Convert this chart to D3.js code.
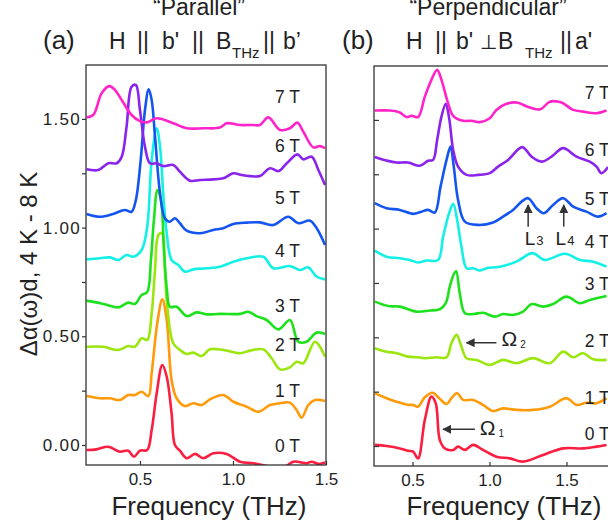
<!DOCTYPE html>
<html>
<head>
<meta charset="utf-8">
<script src="https://cdn.jsdelivr.net/npm/d3@7"></script>
<style>
  body { margin: 0; background: #fff; }
  text { font-family: "Liberation Sans", Arial, sans-serif; fill: #222; }
</style>
</head>
<body>
<svg id="chart" width="608" height="531"></svg>
<script>
// field labels and line colours, one per curve (0 T .. 7 T)
var fields = ["0 T", "1 T", "2 T", "3 T", "4 T", "5 T", "6 T", "7 T"];
var colors = ["#fa1e41", "#ff9a0a", "#9be60f", "#1ee11e", "#14f0e6", "#1455f0", "#8a23eb", "#ff23c8"];

// "Parallel" panel, [frequency THz, signal]
var par0 = [[0.213,-0.023],[0.267,-0.02],[0.33,-0.008],[0.392,-0.031],[0.437,-0.026],[0.468,-0.054],[0.5,-0.026],[0.539,-0.023],[0.563,0.069],[0.59,0.238],[0.62,0.368],[0.644,0.314],[0.67,0.146],[0.688,0.0],[0.715,-0.026],[0.751,-0.061],[0.796,-0.041],[0.84,-0.061],[0.894,-0.038],[0.966,-0.041],[1.038,-0.077],[1.109,-0.084],[1.181,-0.097],[1.253,-0.115],[1.324,-0.077],[1.396,-0.084],[1.423,-0.077],[1.459,-0.087],[1.495,-0.081]];
var par1 = [[0.213,0.225],[0.285,0.215],[0.339,0.215],[0.392,0.207],[0.437,0.23],[0.473,0.23],[0.509,0.245],[0.545,0.225],[0.563,0.33],[0.593,0.56],[0.62,0.67],[0.644,0.575],[0.67,0.299],[0.697,0.215],[0.742,0.179],[0.787,0.192],[0.832,0.184],[0.876,0.21],[0.948,0.23],[1.002,0.199],[1.074,0.176],[1.136,0.153],[1.199,0.184],[1.253,0.192],[1.306,0.195],[1.342,0.161],[1.369,0.126],[1.405,0.184],[1.441,0.207],[1.495,0.202]];
var par2 = [[0.213,0.452],[0.303,0.452],[0.383,0.437],[0.437,0.455],[0.473,0.452],[0.509,0.491],[0.539,0.483],[0.563,0.606],[0.581,0.805],[0.599,0.966],[0.618,0.975],[0.634,0.805],[0.647,0.636],[0.679,0.468],[0.715,0.437],[0.751,0.419],[0.787,0.425],[0.832,0.409],[0.876,0.44],[0.948,0.437],[1.038,0.422],[1.091,0.434],[1.163,0.44],[1.208,0.399],[1.253,0.348],[1.306,0.357],[1.342,0.383],[1.378,0.376],[1.441,0.475],[1.495,0.406]];
var par3 = [[0.213,0.664],[0.303,0.649],[0.383,0.633],[0.437,0.655],[0.473,0.649],[0.509,0.69],[0.539,0.704],[0.559,0.851],[0.575,1.035],[0.594,1.173],[0.613,1.127],[0.629,0.897],[0.645,0.713],[0.661,0.636],[0.697,0.636],[0.751,0.593],[0.805,0.61],[0.859,0.601],[0.93,0.603],[1.038,0.603],[1.082,0.613],[1.127,0.593],[1.181,0.575],[1.244,0.532],[1.306,0.575],[1.351,0.475],[1.396,0.475],[1.45,0.517],[1.495,0.511]];
var par4 = [[0.213,0.854],[0.285,0.859],[0.339,0.863],[0.383,0.851],[0.428,0.874],[0.464,0.866],[0.509,0.897],[0.539,1.004],[0.563,1.311],[0.59,1.457],[0.608,1.372],[0.625,1.158],[0.644,0.974],[0.67,0.851],[0.706,0.828],[0.742,0.797],[0.787,0.808],[0.859,0.813],[0.93,0.82],[1.002,0.843],[1.074,0.859],[1.163,0.866],[1.217,0.813],[1.306,0.823],[1.36,0.805],[1.405,0.817],[1.45,0.774],[1.495,0.762]];
var par5 = [[0.213,1.063],[0.285,1.05],[0.356,1.063],[0.419,1.081],[0.455,1.073],[0.478,1.127],[0.504,1.311],[0.527,1.541],[0.547,1.636],[0.563,1.587],[0.581,1.418],[0.608,1.158],[0.634,1.043],[0.661,1.027],[0.688,1.043],[0.715,1.02],[0.751,0.986],[0.823,0.974],[0.894,0.989],[0.948,0.997],[1.002,1.017],[1.074,1.023],[1.145,1.024],[1.217,1.012],[1.297,1.05],[1.351,1.02],[1.414,1.032],[1.45,0.997],[1.495,0.92]];
var par6 = [[0.213,1.268],[0.276,1.265],[0.33,1.296],[0.375,1.296],[0.402,1.326],[0.428,1.464],[0.455,1.648],[0.478,1.656],[0.5,1.541],[0.527,1.372],[0.554,1.296],[0.59,1.296],[0.625,1.283],[0.679,1.288],[0.715,1.257],[0.769,1.216],[0.823,1.219],[0.894,1.222],[0.948,1.227],[1.002,1.25],[1.047,1.242],[1.091,1.237],[1.145,1.237],[1.199,1.273],[1.244,1.26],[1.289,1.296],[1.346,1.337],[1.378,1.314],[1.423,1.326],[1.459,1.265],[1.495,1.196]];
var par7 = [[0.213,1.507],[0.249,1.518],[0.294,1.618],[0.335,1.651],[0.366,1.633],[0.402,1.587],[0.455,1.518],[0.5,1.49],[0.536,1.484],[0.59,1.503],[0.679,1.48],[0.751,1.457],[0.839,1.457],[0.93,1.46],[0.966,1.48],[1.038,1.472],[1.108,1.472],[1.145,1.472],[1.19,1.507],[1.253,1.449],[1.306,1.457],[1.346,1.483],[1.378,1.441],[1.432,1.369],[1.468,1.375],[1.495,1.365]];

// "Perpendicular" panel
var perp0 = [[0.255,0.005],[0.331,0.0],[0.418,-0.011],[0.471,-0.022],[0.504,-0.026],[0.536,-0.057],[0.58,0.12],[0.623,0.227],[0.651,0.196],[0.677,0.028],[0.71,-0.011],[0.764,-0.018],[0.796,-0.003],[0.84,-0.018],[0.894,0.005],[0.958,-0.018],[1.045,-0.049],[1.132,-0.057],[1.218,-0.072],[1.348,-0.041],[1.478,-0.011],[1.608,-0.011],[1.695,-0.003],[1.76,0.005]];
var perp1 = [[0.255,0.243],[0.331,0.22],[0.396,0.204],[0.471,0.189],[0.504,0.189],[0.536,0.181],[0.58,0.224],[0.63,0.245],[0.673,0.22],[0.721,0.193],[0.753,0.22],[0.79,0.243],[0.829,0.212],[0.894,0.212],[0.958,0.189],[1.023,0.161],[1.088,0.173],[1.175,0.166],[1.283,0.166],[1.392,0.181],[1.5,0.22],[1.565,0.189],[1.63,0.199],[1.695,0.197],[1.76,0.22]];
var perp2 = [[0.255,0.45],[0.331,0.434],[0.396,0.427],[0.471,0.411],[0.536,0.408],[0.58,0.404],[0.656,0.408],[0.721,0.408],[0.753,0.473],[0.786,0.511],[0.818,0.457],[0.851,0.404],[0.916,0.396],[1.002,0.373],[1.088,0.396],[1.175,0.381],[1.283,0.404],[1.392,0.381],[1.478,0.434],[1.543,0.408],[1.608,0.427],[1.673,0.399],[1.76,0.396]];
var perp3 = [[0.255,0.664],[0.342,0.644],[0.418,0.641],[0.526,0.618],[0.612,0.623],[0.677,0.629],[0.716,0.657],[0.742,0.733],[0.768,0.79],[0.783,0.805],[0.807,0.703],[0.84,0.611],[0.894,0.607],[0.958,0.613],[1.034,0.595],[1.088,0.607],[1.153,0.603],[1.218,0.618],[1.273,0.653],[1.348,0.641],[1.413,0.653],[1.5,0.687],[1.587,0.657],[1.651,0.672],[1.76,0.69]];
var perp4 = [[0.255,0.899],[0.331,0.871],[0.418,0.864],[0.482,0.856],[0.536,0.844],[0.591,0.853],[0.666,0.856],[0.699,0.963],[0.738,1.071],[0.764,1.114],[0.79,1.04],[0.818,0.917],[0.851,0.818],[0.894,0.818],[0.937,0.807],[0.981,0.818],[1.067,0.825],[1.175,0.848],[1.279,0.887],[1.359,0.856],[1.49,0.884],[1.587,0.856],[1.673,0.848],[1.76,0.825]];
var perp5 = [[0.255,1.117],[0.331,1.094],[0.418,1.086],[0.504,1.068],[0.558,1.078],[0.601,1.086],[0.645,1.074],[0.682,1.193],[0.721,1.316],[0.747,1.377],[0.768,1.285],[0.796,1.132],[0.84,1.032],[0.926,1.017],[1.023,1.028],[1.088,1.055],[1.153,1.086],[1.208,1.124],[1.251,1.14],[1.305,1.094],[1.353,1.071],[1.413,1.109],[1.478,1.14],[1.543,1.101],[1.63,1.078],[1.705,1.055],[1.76,1.071]];
var perp6 = [[0.255,1.329],[0.331,1.313],[0.396,1.304],[0.471,1.304],[0.547,1.289],[0.601,1.312],[0.634,1.316],[0.66,1.408],[0.688,1.515],[0.716,1.574],[0.738,1.508],[0.764,1.362],[0.796,1.285],[0.851,1.247],[0.926,1.247],[1.002,1.255],[1.056,1.285],[1.121,1.316],[1.212,1.375],[1.273,1.331],[1.338,1.308],[1.403,1.331],[1.478,1.37],[1.565,1.331],[1.651,1.308],[1.695,1.285],[1.727,1.255],[1.77,1.283]];
var perp7 = [[0.255,1.543],[0.353,1.543],[0.418,1.534],[0.461,1.513],[0.494,1.519],[0.536,1.513],[0.58,1.607],[0.623,1.684],[0.66,1.73],[0.688,1.684],[0.731,1.577],[0.764,1.519],[0.829,1.496],[0.883,1.496],[0.937,1.49],[1.002,1.508],[1.045,1.546],[1.11,1.574],[1.175,1.58],[1.262,1.557],[1.331,1.549],[1.392,1.584],[1.468,1.58],[1.543,1.546],[1.608,1.538],[1.695,1.531],[1.76,1.543]];

var parallelCurves = [par0, par1, par2, par3, par4, par5, par6, par7];
var perpCurves = [perp0, perp1, perp2, perp3, perp4, perp5, perp6, perp7];

// where the field labels sit, [frequency, signal]
var parLabelPos = [[1.226,-0.032],[1.226,0.221],[1.226,0.432],[1.226,0.612],[1.226,0.865],[1.226,1.109],[1.226,1.348],[1.226,1.573]];
var perpLabelPos = [[1.619,0.028],[1.619,0.193],[1.619,0.456],[1.619,0.718],[1.619,0.911],[1.619,1.109],[1.619,1.336],[1.619,1.597]];

// annotations in the perpendicular panel
var modeArrows = [ // horizontal arrows: tail freq, tip freq, signal, label, sub, label freq, label signal
  {from: 0.905, to: 0.699, y: 0.077, name: "\u03A9", sub: "1", lx: 0.937, ly: 0.051},
  {from: 1.045, to: 0.851, y: 0.475, name: "\u03A9", sub: "2", lx: 1.078, ly: 0.46}
];
var magnonArrows = [ // vertical arrows: freq, tail signal, tip signal, label
  {x: 1.251, from: 1.009, to: 1.109, name: "L", sub: "3", lx: 1.229, ly: 0.925},
  {x: 1.482, from: 1.009, to: 1.109, name: "L", sub: "4", lx: 1.429, ly: 0.925}
];

var yDomain = [-0.092, 1.748];
var xTicks = [0.5, 1.0, 1.5];
var yTicks = [0, 0.25, 0.5, 0.75, 1.0, 1.25, 1.5];

var svg = d3.select("#chart");

var defs = svg.append("defs");
defs.append("marker")
    .attr("id", "head")
    .attr("viewBox", "0 0 10 10")
    .attr("refX", 9).attr("refY", 5)
    .attr("markerWidth", 9).attr("markerHeight", 9)
    .attr("markerUnits", "userSpaceOnUse")
    .attr("orient", "auto")
    .append("path")
    .attr("d", "M0,0 L10,5 L0,10 Z")
    .attr("fill", "#333");

function drawPanel(id, curves, labelPos, xScale, yScale, showYLabels, titleX) {
    var g = svg.append("g").attr("class", id);
    var x0 = xScale.range()[0], y0 = yScale.range()[1];
    var w = xScale.range()[1] - x0, h = yScale.range()[0] - y0;

    defs.append("clipPath").attr("id", "clip-" + id)
        .append("rect").attr("x", x0).attr("y", y0).attr("width", w).attr("height", h);

    var line = d3.line()
        .x(d => xScale(d[0]))
        .y(d => yScale(d[1]))
        .curve(d3.curveCatmullRom.alpha(0.5));

    g.append("g").attr("clip-path", "url(#clip-" + id + ")")
        .selectAll("path")
        .data(curves)
        .join("path")
        .attr("d", line)
        .attr("fill", "none")
        .attr("stroke", (d, i) => colors[i])
        .attr("stroke-width", 2.6)
        .attr("stroke-linejoin", "round");

    g.append("rect")
        .attr("x", x0).attr("y", y0).attr("width", w).attr("height", h)
        .attr("fill", "none").attr("stroke", "#333").attr("stroke-width", 1.3);

    var yAxis = g.append("g")
        .attr("transform", "translate(" + x0 + ",0)")
        .call(d3.axisLeft(yScale)
            .tickValues(yTicks)
            .tickSize(showYLabels ? 4 : -5)
            .tickPadding(1)
            .tickFormat(d => showYLabels && Math.abs(d * 2 - Math.round(d * 2)) < 1e-6 ? d.toFixed(2) : ""));
    yAxis.select(".domain").remove();
    yAxis.selectAll("line").attr("stroke", "#333").attr("stroke-width", 1.2);
    yAxis.selectAll("text").style("font-size", "17px").style("letter-spacing", "1.3px")
        .style("font-family", "'Liberation Sans', Arial, sans-serif").attr("fill", "#222");

    var xAxis = g.append("g")
        .attr("transform", "translate(0," + (y0 + h) + ")")
        .call(d3.axisBottom(xScale)
            .tickValues(xTicks)
            .tickSize(-4)
            .tickPadding(8)
            .tickFormat(d3.format(".1f")));
    xAxis.select(".domain").remove();
    xAxis.selectAll("line").attr("stroke", "#333").attr("stroke-width", 1.2);
    xAxis.selectAll("text").style("font-size", "17px")
        .style("font-family", "'Liberation Sans', Arial, sans-serif").attr("fill", "#222");

    g.selectAll(".field")
        .data(fields)
        .join("text")
        .attr("class", "field")
        .attr("x", (d, i) => xScale(labelPos[i][0]))
        .attr("y", (d, i) => yScale(labelPos[i][1]))
        .style("font-size", "17.5px")
        .text(d => d);

    g.append("text")
        .attr("x", titleX)
        .attr("y", 515)
        .attr("text-anchor", "middle")
        .style("font-size", "26px")
        .text("Frequency (THz)");

    return g;
}

var xA = d3.scaleLinear().domain([0.21, 1.5]).range([86, 326]);
var yA = d3.scaleLinear().domain(yDomain).range([465, 65]);
var xB = d3.scaleLinear().domain([0.25, 1.8]).range([374, 612.7]);
var yB = d3.scaleLinear().domain(yDomain).range([466, 66]);

drawPanel("pa", parallelCurves, parLabelPos, xA, yA, true, 209);
var gb = drawPanel("pb", perpCurves, perpLabelPos, xB, yB, false, 504);

// annotations in panel b
modeArrows.forEach(function(a) {
    gb.append("line")
        .attr("x1", xB(a.from)).attr("x2", xB(a.to))
        .attr("y1", yB(a.y)).attr("y2", yB(a.y))
        .attr("stroke", "#333").attr("stroke-width", 1.5)
        .attr("marker-end", "url(#head)");
    var t = gb.append("text").attr("x", xB(a.lx)).attr("y", yB(a.ly)).style("font-size", "21px");
    t.append("tspan").text(a.name);
    t.append("tspan").attr("dx", 3).attr("dy", 2).style("font-size", "10px").text(a.sub);
});
magnonArrows.forEach(function(a) {
    gb.append("line")
        .attr("x1", xB(a.x)).attr("x2", xB(a.x))
        .attr("y1", yB(a.from)).attr("y2", yB(a.to))
        .attr("stroke", "#333").attr("stroke-width", 1.5)
        .attr("marker-end", "url(#head)");
    var t = gb.append("text").attr("x", xB(a.lx)).attr("y", yB(a.ly)).style("font-size", "19px");
    t.append("tspan").text(a.name);
    t.append("tspan").attr("dx", 1).attr("dy", 0).style("font-size", "13px").text(a.sub);
});

// y axis title
svg.append("text")
    .attr("transform", "translate(37,264) rotate(-90)")
    .attr("text-anchor", "middle")
    .style("font-size", "24px")
    .text("\u0394\u03B1(\u03C9)d, 4 K - 8 K");

// panel headings
svg.append("text").attr("x", 199).attr("y", 15).attr("text-anchor", "middle")
    .style("font-size", "23px").text("\u201CParallel\u201D");
svg.append("text").attr("x", 488).attr("y", 15).attr("text-anchor", "middle")
    .style("font-size", "23px").text("\u201CPerpendicular\u201D");

var headA = [["(a)", 43], ["H", 109], ["||", 137], ["b'", 162], ["||", 192], ["B", 216], ["||", 263], ["b\u2019", 283]];
var headB = [["(b)", 342], ["H", 406], ["||", 435], ["b'", 456], ["\u22A5", 480], ["B", 498], ["||", 560], ["a'", 575]];
[headA, headB].forEach(function(parts) {
    svg.selectAll(null)
        .data(parts)
        .enter().append("text")
        .attr("x", d => d[1])
        .attr("y", 49)
        .style("font-size", d => d[0].charAt(0) === "(" ? "26px" : (d[0] === "\u22A5" ? "20px" : "23px"))
        .text(d => d[0]);
});
svg.append("text").attr("x", 232).attr("y", 58).style("font-size", "15px").text("THz");
svg.append("text").attr("x", 525).attr("y", 58).style("font-size", "15px").text("THz");
</script>
</body>
</html>
